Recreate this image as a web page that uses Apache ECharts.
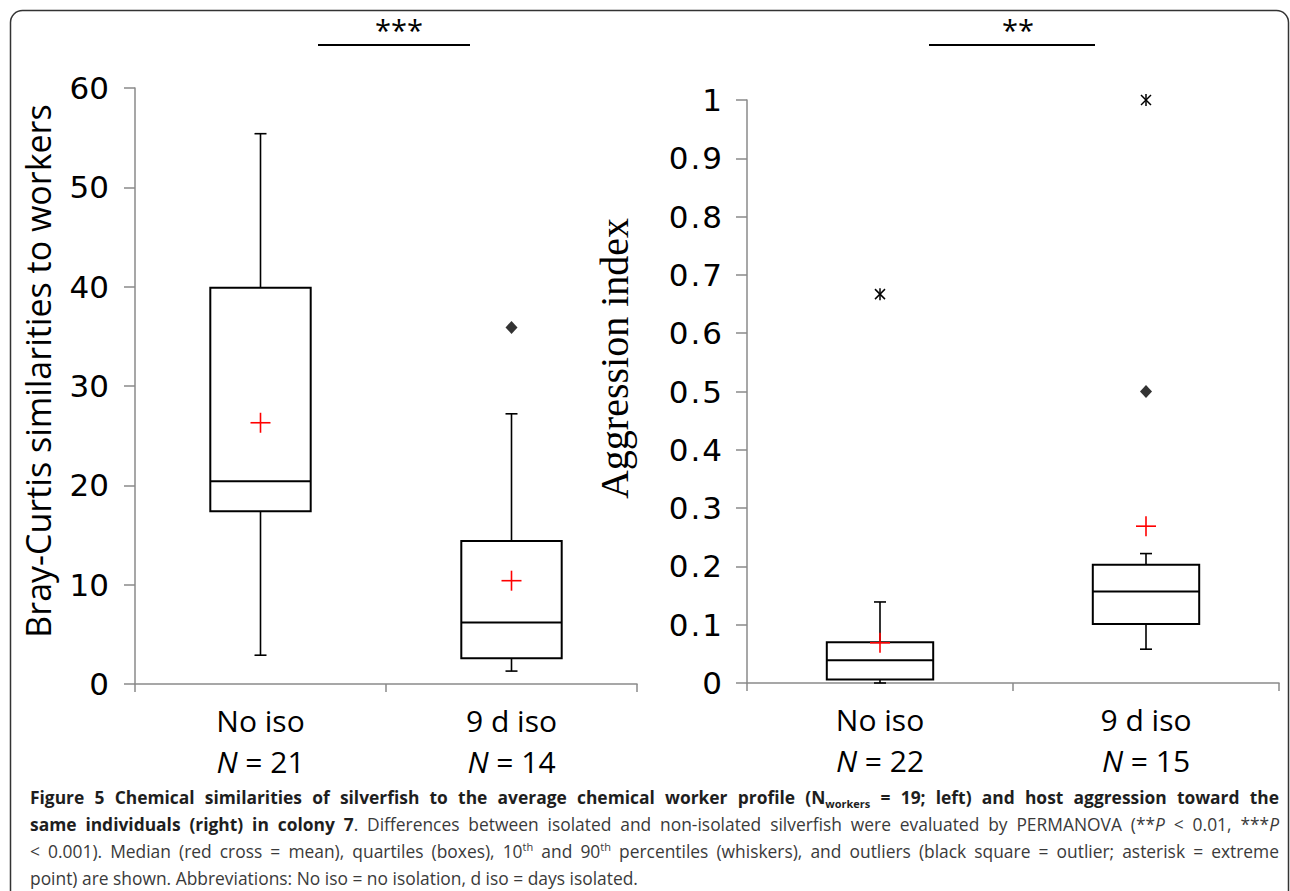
<!DOCTYPE html>
<html>
<head>
<meta charset="utf-8">
<script src="https://cdn.jsdelivr.net/npm/echarts@6/dist/echarts.min.js"></script>
<style>
  html, body { margin: 0; padding: 0; background: #fff; }
  #wrap { position: relative; width: 1290px; height: 891px; overflow: hidden; }
  #chart { position: absolute; left: 0; top: 0; width: 1290px; height: 891px; }
  #caption {
    position: absolute; left: 30px; top: 786px; width: 1249px;
    font-family: "Open Sans", sans-serif; font-size: 17.4px;
    color: #3a3a3a;
  }
  #caption .ln { text-align: justify; text-align-last: justify; white-space: nowrap; height: 27px; line-height: 23px; box-sizing: border-box; }
  #caption .ln.last { text-align-last: left; height: 24px; }
  #caption b { color: #1e1e1e; }
  #caption .sub { font-size: 11px; vertical-align: -4px; line-height: 0; }
  #caption .sup { font-size: 11px; vertical-align: 7px; line-height: 0; }
</style>
</head>
<body>
<div id="wrap">
  <div id="chart"></div>
  <div id="caption">
    <div class="ln"><b>Figure 5 Chemical similarities of silverfish to the average chemical worker profile (N<span class="sub">workers</span> = 19; left) and host aggression toward the</b></div>
    <div class="ln"><b>same individuals (right) in colony 7</b>. Differences between isolated and non-isolated silverfish were evaluated by PERMANOVA (**<i>P</i> &lt; 0.01, ***<i>P</i></div>
    <div class="ln">&lt; 0.001). Median (red cross = mean), quartiles (boxes), 10<span class="sup">th</span> and 90<span class="sup">th</span> percentiles (whiskers), and outliers (black square = outlier; asterisk = extreme</div>
    <div class="ln last">point) are shown. Abbreviations: No iso = no isolation, d iso = days isolated.</div>
  </div>
</div>
<script>
// ---------- data ----------
const categories = ['No iso', '9 d iso'];
const nLeft = [21, 14];
const nRight = [22, 15];

// Left panel: Bray-Curtis similarities to workers
const simLow  = [2.9, 1.3];
const simQ1   = [17.4, 2.6];
const simMed  = [20.4, 6.2];
const simQ3   = [39.9, 14.4];
const simHigh = [55.4, 27.2];
const simMean = [26.3, 10.4];
const simOutliers = [[1, 35.9]];
const simExtremes = [];

// Right panel: Aggression index
const aggLow  = [0.0, 0.058];
const aggQ1   = [0.006, 0.101];
const aggMed  = [0.039, 0.157];
const aggQ3   = [0.070, 0.203];
const aggHigh = [0.139, 0.222];
const aggMean = [0.069, 0.269];
const aggOutliers = [[1, 0.5]];
const aggExtremes = [[0, 0.667], [1, 1.0]];

const leftTicks = [0, 10, 20, 30, 40, 50, 60];
const rightTicks = [0, 0.1, 0.2, 0.3, 0.4, 0.5, 0.6, 0.7, 0.8, 0.9, 1];

// ---------- helpers ----------
const AX = '#8a8a8a';
const FONT = '"Open Sans", sans-serif';
const TICKFONT = '"DejaVu Sans", sans-serif';

function boxSeries(idx, low, q1, med, q3, high) {
  return {
    type: 'custom', xAxisIndex: idx, yAxisIndex: idx, silent: true,
    encode: { x: 0, y: [1, 2, 3, 4, 5] },
    data: categories.map((c, i) => [i, low[i], q1[i], med[i], q3[i], high[i]]),
    renderItem(params, api) {
      const x = api.value(0);
      const w = api.size([1, 0])[0] * 0.4;
      const cap = 12;
      const pl = api.coord([x, api.value(1)]);
      const p1 = api.coord([x, api.value(2)]);
      const pm = api.coord([x, api.value(3)]);
      const p3 = api.coord([x, api.value(4)]);
      const ph = api.coord([x, api.value(5)]);
      const cx = pl[0];
      const ls = { stroke: '#000', lineWidth: 1.6 };
      return {
        type: 'group', children: [
          { type: 'line', shape: { x1: cx, y1: p3[1], x2: cx, y2: ph[1] }, style: ls },
          { type: 'line', shape: { x1: cx - cap / 2, y1: ph[1], x2: cx + cap / 2, y2: ph[1] }, style: ls },
          { type: 'line', shape: { x1: cx, y1: p1[1], x2: cx, y2: pl[1] }, style: ls },
          { type: 'line', shape: { x1: cx - cap / 2, y1: pl[1], x2: cx + cap / 2, y2: pl[1] }, style: ls },
          { type: 'rect', shape: { x: cx - w / 2, y: p3[1], width: w, height: p1[1] - p3[1] },
            style: { fill: 'none', stroke: '#000', lineWidth: 2 } },
          { type: 'line', shape: { x1: cx - w / 2, y1: pm[1], x2: cx + w / 2, y2: pm[1] }, style: { stroke: '#000', lineWidth: 2 } }
        ]
      };
    }
  };
}

function meanSeries(idx, mean) {
  return {
    type: 'custom', xAxisIndex: idx, yAxisIndex: idx, silent: true, z: 5,
    encode: { x: 0, y: 1 },
    data: categories.map((c, i) => [i, mean[i]]),
    renderItem(params, api) {
      const p = api.coord([api.value(0), api.value(1)]);
      const h = 10;
      const ls = { stroke: '#ff0000', lineWidth: 1.6 };
      return {
        type: 'group', children: [
          { type: 'line', shape: { x1: p[0] - h, y1: p[1], x2: p[0] + h, y2: p[1] }, style: ls },
          { type: 'line', shape: { x1: p[0], y1: p[1] - h, x2: p[0], y2: p[1] + h }, style: ls }
        ]
      };
    }
  };
}

function extremeSeries(idx, pts) {
  return {
    type: 'custom', xAxisIndex: idx, yAxisIndex: idx, silent: true,
    encode: { x: 0, y: 1 },
    data: pts,
    renderItem(params, api) {
      const p = api.coord([api.value(0), api.value(1)]);
      const ls = { stroke: '#000', lineWidth: 1.5 };
      return {
        type: 'group', children: [
          { type: 'line', shape: { x1: p[0], y1: p[1] - 6, x2: p[0], y2: p[1] + 6 }, style: ls },
          { type: 'line', shape: { x1: p[0] - 5, y1: p[1] - 5, x2: p[0] + 5, y2: p[1] + 5 }, style: ls },
          { type: 'line', shape: { x1: p[0] - 5, y1: p[1] + 5, x2: p[0] + 5, y2: p[1] - 5 }, style: ls }
        ]
      };
    }
  };
}

function outlierSeries(idx, pts) {
  return {
    type: 'scatter', xAxisIndex: idx, yAxisIndex: idx, silent: true,
    symbol: 'diamond', symbolSize: [12, 13],
    itemStyle: { color: '#000' },
    data: pts
  };
}

function xAxisCfg(idx, nArr) {
  return {
    type: 'category', gridIndex: idx, data: categories,
    axisLine: { lineStyle: { color: AX, width: 1.5 } },
    axisTick: { show: true, length: 8, lineStyle: { color: AX, width: 1.5 } },
    axisLabel: {
      margin: 16,
      formatter: (v, i) => '{a|' + v + '}\n{i|N}{a| = ' + nArr[i] + '}',
      rich: {
        a: { fontFamily: FONT, fontSize: 30, color: '#000', lineHeight: 41 },
        i: { fontFamily: FONT, fontSize: 30, color: '#000', lineHeight: 41, fontStyle: 'italic' }
      }
    },
    splitLine: { show: false }
  };
}

function yAxisCfg(idx, ticks, name, nameStyle, gap, margin, fmt, rich) {
  return {
    type: 'value', gridIndex: idx,
    min: ticks[0], max: ticks[ticks.length - 1], interval: ticks[1] - ticks[0],
    name: name, nameLocation: 'middle', nameGap: gap, nameRotate: 90,
    nameTextStyle: nameStyle,
    axisLine: { show: true, lineStyle: { color: AX, width: 1.5 } },
    axisTick: { show: true, length: 11, lineStyle: { color: AX, width: 1.5 } },
    axisLabel: { margin: margin, fontFamily: TICKFONT, fontSize: 31, color: '#000', formatter: fmt, rich: rich },
    splitLine: { show: false }
  };
}

const chart = echarts.init(document.getElementById('chart'), null, { renderer: 'svg', width: 1290, height: 891 });

chart.setOption({
  animation: false,
  backgroundColor: '#fff',
  grid: [
    { left: 135, right: 653, top: 88, bottom: 207 },
    { left: 747, right: 11, top: 100, bottom: 208 }
  ],
  xAxis: [xAxisCfg(0, nLeft), xAxisCfg(1, nRight)],
  yAxis: [
    yAxisCfg(0, leftTicks, 'Bray-Curtis similarities to workers',
      { fontFamily: FONT, fontSize: 34, color: '#000', padding: [0, 0, 0, 30] }, 80, 26,
      v => String(v), {}),
    yAxisCfg(1, rightTicks, 'Aggression index',
      { fontFamily: '"Liberation Serif", "Times New Roman", serif', fontSize: 40, color: '#000', padding: [0, 0, 0, 66] }, 113, 25,
      v => {
        const s = String(Math.round(v * 10) / 10);
        const parts = s.split('.');
        return parts.length === 2 ? '{d|' + parts[0] + '}{p|.}{d|' + parts[1] + '}' : '{d|' + s + '}';
      },
      {
        d: { fontFamily: TICKFONT, fontSize: 31, color: '#000' },
        p: { fontFamily: TICKFONT, fontSize: 31, color: '#000', padding: [0, 2, 0, 2] }
      })
  ],
  graphic: [
    { type: 'rect', silent: true, shape: { x: 10.5, y: 10.5, width: 1278, height: 1000, r: 12 },
      style: { fill: 'none', stroke: '#333', lineWidth: 1.5 } },
    { type: 'line', silent: true, shape: { x1: 318, y1: 45, x2: 470, y2: 45 }, style: { stroke: '#000', lineWidth: 2 } },
    { type: 'text', silent: true, x: 399, y: 44, style: { text: '***', fontFamily: FONT, fontSize: 29, fill: '#000', align: 'center', verticalAlign: 'bottom' } },
    { type: 'line', silent: true, shape: { x1: 929, y1: 45, x2: 1095, y2: 45 }, style: { stroke: '#000', lineWidth: 2 } },
    { type: 'text', silent: true, x: 1018, y: 44, style: { text: '**', fontFamily: FONT, fontSize: 29, fill: '#000', align: 'center', verticalAlign: 'bottom' } }
  ],
  series: [
    boxSeries(0, simLow, simQ1, simMed, simQ3, simHigh),
    meanSeries(0, simMean),
    outlierSeries(0, simOutliers),
    extremeSeries(0, simExtremes),
    boxSeries(1, aggLow, aggQ1, aggMed, aggQ3, aggHigh),
    meanSeries(1, aggMean),
    outlierSeries(1, aggOutliers),
    extremeSeries(1, aggExtremes)
  ]
});
</script>
</body>
</html>
